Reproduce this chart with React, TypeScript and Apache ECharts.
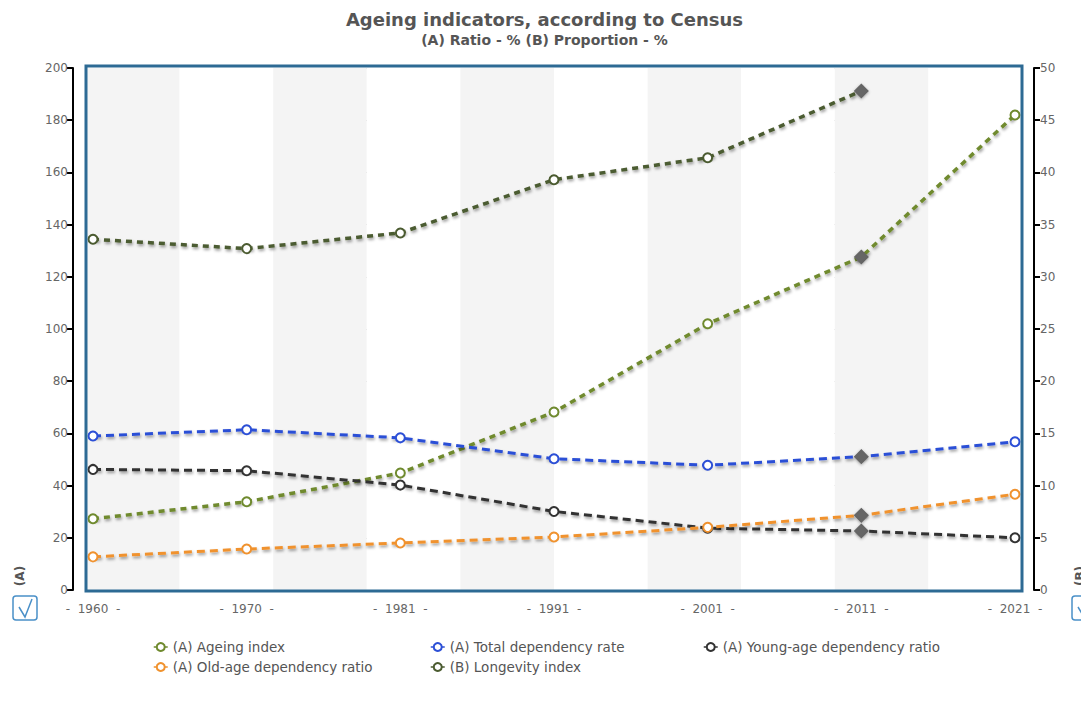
import React, { useEffect, useRef } from "react";
import * as echarts from "echarts";

// Census years and indicator values
const years = ["1960", "1970", "1981", "1991", "2001", "2011", "2021"];
const ageingIndex = [27.3, 33.8, 44.8, 68.2, 102.0, 127.6, 182.0];
const totalDependency = [59.0, 61.4, 58.3, 50.3, 47.8, 51.1, 56.8];
const youngDependency = [46.2, 45.7, 40.2, 30.1, 23.7, 22.6, 20.0];
const oldDependency = [12.7, 15.7, 18.0, 20.3, 24.0, 28.6, 36.7];
const longevityIndex: (number | null)[] = [33.6, 32.7, 34.2, 39.3, 41.4, 47.8, null];
const highlightedYear = "2011";

const seriesNames = [
  "(A) Ageing index",
  "(A) Total dependency rate",
  "(A) Young-age dependency ratio",
  "(A) Old-age dependency ratio",
  "(B) Longevity index",
];

const FONT = "'DejaVu Sans', Verdana, sans-serif";

function lineSeries(
  name: string,
  values: (number | null)[],
  color: string,
  yAxisIndex: number,
  dash: number[],
  width: number
) {
  return {
    type: "line",
    name,
    xAxisIndex: 0,
    yAxisIndex,
    z: 3,
    symbol: "emptyCircle",
    symbolSize: 9,
    showAllSymbol: true,
    connectNulls: false,
    itemStyle: { color, borderWidth: 1.5 },
    lineStyle: {
      color,
      width,
      type: dash,
      shadowColor: "rgba(0,0,0,0.4)",
      shadowBlur: 3,
      shadowOffsetX: 1,
      shadowOffsetY: 2,
    },
    emphasis: { disabled: true },
    data: values.map((v, i) =>
      years[i] === highlightedYear && v != null
        ? {
            value: v,
            symbol: "diamond",
            symbolSize: 13,
            itemStyle: {
              color: "#666",
              borderColor: "#666",
              shadowColor: "rgba(0,0,0,0.35)",
              shadowBlur: 3,
              shadowOffsetY: 1,
            },
          }
        : v
    ),
  };
}

function legendBlock(names: string[], left: number) {
  return {
    data: names,
    orient: "vertical",
    left,
    top: 635,
    itemGap: 6,
    itemWidth: 14,
    itemHeight: 10,
    selectedMode: false,
    textStyle: { color: "#555", fontSize: 13.5, fontFamily: FONT },
    lineStyle: { width: 1.5, type: "solid", shadowBlur: 0, shadowOffsetX: 0, shadowOffsetY: 0 },
    itemStyle: { borderWidth: 1.2, shadowBlur: 0 },
  };
}

function checkbox(x: number, y: number) {
  return [
    {
      type: "rect",
      shape: { x, y, width: 24, height: 24, r: 3 },
      style: { fill: "#fff", stroke: "#4a90c8", lineWidth: 1.5 },
    },
    {
      type: "polyline",
      shape: { points: [[x + 6, y + 11], [x + 12, y + 21], [x + 19, y + 3]] },
      style: { fill: "none", stroke: "#4a90c8", lineWidth: 1.5 },
    },
  ];
}

export default function App() {
  const ref = useRef<HTMLDivElement>(null);

  useEffect(() => {
    if (!ref.current) return;
    const chart = echarts.init(ref.current, undefined, { renderer: "svg" });

    const axisText = { color: "#666", fontSize: 12, fontFamily: FONT };

    chart.setOption({
      animation: false,
      backgroundColor: "#fff",
      textStyle: { fontFamily: FONT },
      title: {
        text: "Ageing indicators, according to Census",
        subtext: "(A) Ratio - % (B) Proportion - %",
        left: "center",
        top: 5,
        itemGap: 5,
        textStyle: { color: "#555", fontSize: 18, fontWeight: "bold", fontFamily: FONT },
        subtextStyle: { color: "#555", fontSize: 14, fontWeight: "bold", fontFamily: FONT },
      },
      legend: [
        legendBlock([seriesNames[0], seriesNames[3]], 148),
        legendBlock([seriesNames[1], seriesNames[4]], 425),
        legendBlock([seriesNames[2]], 698),
      ],
      grid: [
        // plotting grid: points sit slightly inside the frame
        { left: 93, right: 74, top: 68, bottom: 116 },
        // frame grid: stripes and dotted guides
        { left: 86, right: 67, top: 68, bottom: 116 },
        // frame border on top of the stripes
        {
          left: 86,
          right: 67,
          top: 66,
          bottom: 115,
          show: true,
          z: 4,
          backgroundColor: "transparent",
          borderColor: "#2d6a94",
          borderWidth: 3,
        },
      ],
      xAxis: [
        {
          type: "category",
          gridIndex: 0,
          data: years,
          boundaryGap: false,
          axisLine: { show: false },
          axisTick: { show: false },
          splitLine: { show: false },
          axisLabel: { ...axisText, formatter: "-\u00a0 {value} \u00a0-", margin: 13 },
        },
        {
          type: "value",
          gridIndex: 1,
          min: 0,
          max: 10,
          interval: 1,
          axisLine: { show: false },
          axisTick: { show: false },
          axisLabel: { show: false },
          splitLine: { show: false },
          splitArea: { show: true, areaStyle: { color: ["#f4f4f4", "#ffffff"] } },
        },
        { type: "value", gridIndex: 2, show: false },
      ],
      yAxis: [
        {
          type: "value",
          gridIndex: 0,
          position: "left",
          offset: 20,
          min: 0,
          max: 200,
          interval: 20,
          axisLine: { show: true, lineStyle: { color: "#000", width: 2 } },
          axisTick: { show: true, length: 6, lineStyle: { color: "#000", width: 2 } },
          axisLabel: { ...axisText, margin: 5 },
          splitLine: { show: false },
        },
        {
          type: "value",
          gridIndex: 0,
          position: "right",
          offset: 19,
          min: 0,
          max: 50,
          interval: 5,
          axisLine: { show: true, lineStyle: { color: "#000", width: 2 } },
          axisTick: { show: true, length: 6, lineStyle: { color: "#000", width: 2 } },
          axisLabel: { ...axisText, margin: 6 },
          splitLine: { show: false },
        },
        {
          type: "value",
          gridIndex: 1,
          min: 0,
          max: 200,
          interval: 20,
          axisLine: { show: false },
          axisTick: { show: false },
          axisLabel: { show: false },
          splitLine: {
            show: true,
            lineStyle: { color: "#aaa", width: 1, type: [1, 3] },
          },
        },
        { type: "value", gridIndex: 2, show: false },
      ],
      series: [
        lineSeries(seriesNames[0], ageingIndex, "#6f8a2e", 0, [6, 5], 3.5),
        lineSeries(seriesNames[1], totalDependency, "#2c4fd6", 0, [8, 5], 3),
        lineSeries(seriesNames[2], youngDependency, "#333333", 0, [8, 5], 3),
        lineSeries(seriesNames[3], oldDependency, "#f0922e", 0, [8, 5], 3),
        lineSeries(seriesNames[4], longevityIndex, "#4b5b30", 1, [6, 5], 3.5),
      ],
      graphic: [
        {
          type: "text",
          x: 20,
          y: 576,
          rotation: Math.PI / 2,
          style: {
            text: "(A)",
            fill: "#555",
            font: `bold 12px ${FONT}`,
            align: "center",
            verticalAlign: "middle",
          },
        },
        {
          type: "text",
          x: 1080,
          y: 576,
          rotation: Math.PI / 2,
          style: {
            text: "(B)",
            fill: "#555",
            font: `bold 12px ${FONT}`,
            align: "center",
            verticalAlign: "middle",
          },
        },
        ...checkbox(13, 596),
        ...checkbox(1072, 596),
      ],
    });

    return () => chart.dispose();
  }, []);

  return <div ref={ref} style={{ width: 1089, height: 706, margin: -8 }} />;
}
